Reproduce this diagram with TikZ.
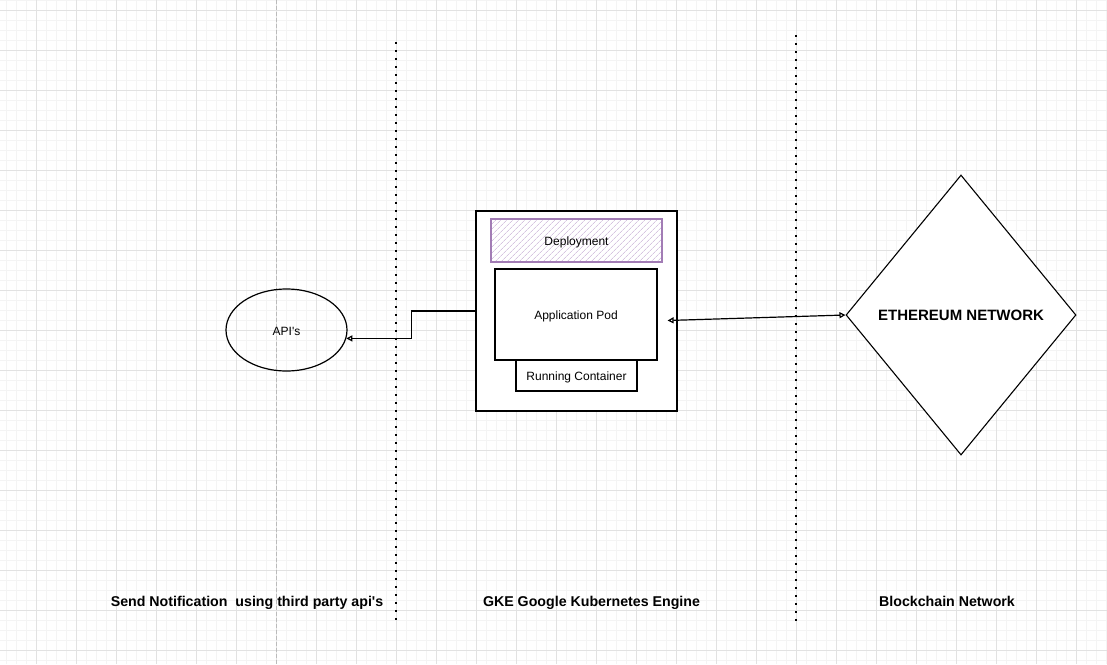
\documentclass[tikz,border=0pt]{standalone}
\usepackage{fontspec}
\setmainfont{Liberation Sans}[Ligatures=TeXOff]
\usetikzlibrary{shapes.geometric,arrows.meta,patterns.meta}
\definecolor{gridmaj}{HTML}{E2E2E2}
\definecolor{gridmin}{HTML}{F4F4F4}
\definecolor{purpstroke}{HTML}{A27CB5}
\definecolor{purphatch}{HTML}{D6C4E0}
\definecolor{guide}{HTML}{BBBBBB}
\tikzset{
  lbl/.style={font=\fontsize{12}{14}\selectfont, text=black, text height=12pt, text depth=2.5pt},
  blbl/.style={font=\fontsize{14.2}{17}\selectfont\bfseries, text=black, text height=13pt, text depth=3pt},
  boxshape/.style={draw=black, line width=1.2pt, fill=white, inner sep=0pt},
  sep/.style={line width=2pt, dash pattern=on 2pt off 6pt},
  arr/.style={line width=1.2pt, -{Triangle[open,length=6pt,width=6pt]}},
  darr/.style={line width=1.2pt, {Triangle[open,length=6pt,width=6pt]}-{Triangle[open,length=6pt,width=6pt]}}
}
\begin{document}
\begin{tikzpicture}[x=1pt,y=-1pt]
\useasboundingbox (0,0) rectangle (1107,664);
\fill[white] (0,0) rectangle (1107,664);
% grid
\foreach \x in {6,16,...,1106} \draw[gridmin, line width=1pt] (\x,0) -- (\x,664);
\foreach \y in {0,10,...,660} \draw[gridmin, line width=1pt] (0,\y) -- (1107,\y);
\foreach \x in {36,76,...,1106} \draw[gridmaj, line width=1pt] (\x,0) -- (\x,664);
\foreach \y in {10,50,...,660} \draw[gridmaj, line width=1pt] (0,\y) -- (1107,\y);
% guide line
\draw[guide, line width=0.8pt, dash pattern=on 4pt off 2pt] (276.5,0) -- (276.5,664);
% separators
\draw[sep] (396,42) -- (396,621);
\draw[sep] (796,35) -- (796,621);
% GKE box
\node[boxshape, line width=1.6pt, minimum width=201pt, minimum height=200pt] (box) at (576.5,311) {};
\node[draw=purpstroke, line width=1.3pt, inner sep=0pt, minimum width=171pt, minimum height=43pt,
      pattern={Lines[angle=45,distance=4pt,line width=0.7pt]}, pattern color=purphatch, lbl] (dep) at (576.5,240.5) {Deployment};
\node[boxshape, minimum width=162pt, minimum height=91pt, lbl] (pod) at (576,314.5) {Application Pod};
\node[boxshape, minimum width=121pt, minimum height=31pt, lbl] (rc) at (576.5,375.5) {Running Container};
% APIs
\node[ellipse, draw=black, line width=1.2pt, fill=none, inner sep=0pt, minimum width=121pt, minimum height=82pt, lbl, text height=12.5pt] (api) at (286.5,330) {API's};
% Ethereum
\node[diamond, draw=black, line width=1.1pt, fill=white, inner sep=0pt, minimum width=230pt, minimum height=280pt, text=black, font=\fontsize{15}{17}\selectfont\bfseries, text height=13.8pt, text depth=3pt] (eth) at (961,315) {ETHEREUM NETWORK};
% connectors
\draw[arr] (box.west) -- ++(-64,0) |- (api.-8);
\draw[darr] ([shift={(10,6)}]pod.east) -- (eth.west);
% bottom labels
\node[blbl] (l1) at (247,601) {Send Notification\ \ using third party api's};
\node[blbl] (l2) at (591.5,601) {GKE Google Kubernetes Engine};
\node[blbl] (l3) at (947,601) {Blockchain Network};
\end{tikzpicture}
\end{document}
